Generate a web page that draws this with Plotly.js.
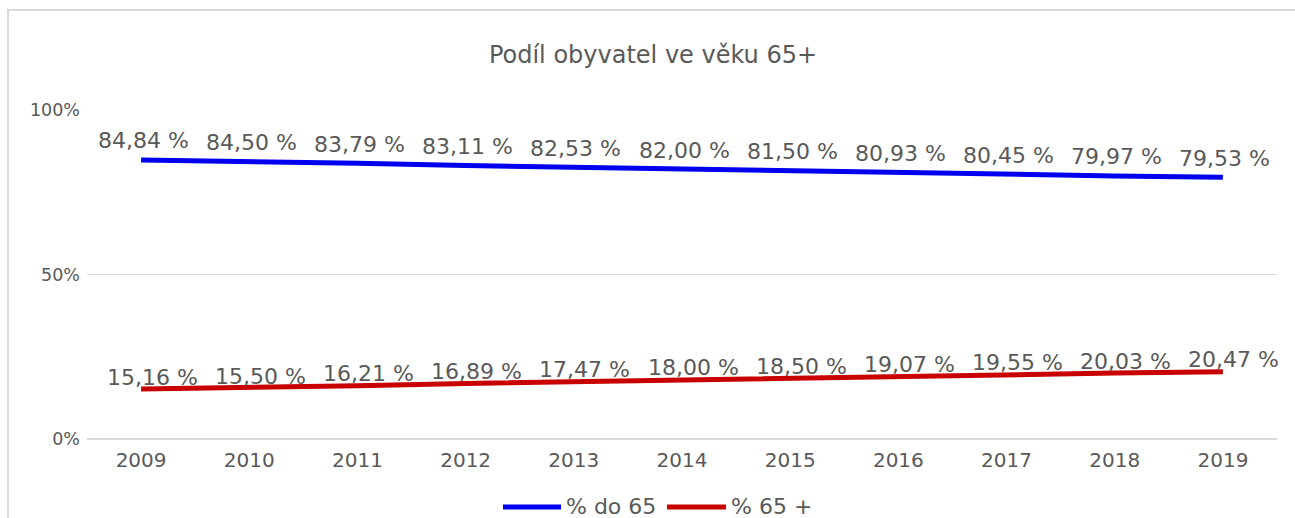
<!DOCTYPE html>
<html>
<head>
<meta charset="utf-8">
<script src="https://cdn.plot.ly/plotly-3.0.1.min.js"></script>
<style>
html,body{margin:0;padding:0;background:#fff;}
#wrap{position:relative;width:1295px;height:518px;overflow:hidden;}
#chart{position:absolute;left:0;top:0;width:1295px;height:518px;}
#frame{position:absolute;left:7px;top:9px;width:1300px;height:530px;border:2px solid #d9d9d9;box-sizing:border-box;pointer-events:none;}
</style>
</head>
<body>
<div id="wrap"><div id="chart"></div><div id="frame"></div></div>
<script>
const years = ['2009','2010','2011','2012','2013','2014','2015','2016','2017','2018','2019'];
const under65 = [0.8484,0.8450,0.8379,0.8311,0.8253,0.8200,0.8150,0.8093,0.8045,0.7997,0.7953];
const over65 = [0.1516,0.1550,0.1621,0.1689,0.1747,0.1800,0.1850,0.1907,0.1955,0.2003,0.2047];
const seriesNames = ['% do 65','% 65 +'];
const seriesColors = ['#0000f0','#c80000'];
const chartTitle = 'Podíl obyvatel ve věku 65+';

const FONT = 'DejaVu Sans, sans-serif';
const GREY = '#595959';
const fmt = v => (v*100).toFixed(2).replace('.', ',') + ' %';

const traces = [
  {x: years, y: under65, name: seriesNames[0], type: 'scatter', mode: 'lines',
   line: {color: seriesColors[0], width: 5}, showlegend: false},
  {x: years, y: over65, name: seriesNames[1], type: 'scatter', mode: 'lines',
   line: {color: seriesColors[1], width: 5}, showlegend: false}
];

// category axis: annotations are positioned by category index
const annotations = [];
years.forEach((yr, i) => {
  annotations.push({x: i, y: under65[i], text: fmt(under65[i]), showarrow: false,
    xref: 'x', yref: 'y', yshift: 19, xshift: 2, font: {family: FONT, size: 22, color: GREY}});
  annotations.push({x: i, y: over65[i], text: fmt(over65[i]), showarrow: false,
    xref: 'x', yref: 'y', yshift: 12, xshift: 11, font: {family: FONT, size: 22, color: GREY}});
});

// legend drawn with shapes + text (longer line keys like the original)
const px = v => (v - 87) / 1190;
const py = v => (439 - v) / 329;
const legendKeys = [[503, 561, 564], [667, 726, 729]];
const shapes = [];
legendKeys.forEach((k, i) => {
  shapes.push({type: 'line', xref: 'paper', yref: 'paper', x0: px(k[0]), x1: px(k[1]), y0: py(507), y1: py(507),
               line: {color: seriesColors[i], width: 5}});
  annotations.push({xref: 'paper', yref: 'paper', x: px(k[2]), y: py(506), xanchor: 'left', yanchor: 'middle',
               text: seriesNames[i], showarrow: false, font: {family: FONT, size: 22, color: GREY}});
});

const layout = {
  width: 1295, height: 518,
  margin: {l: 87, r: 18, t: 110, b: 79},
  paper_bgcolor: 'rgba(0,0,0,0)', plot_bgcolor: 'rgba(0,0,0,0)',
  font: {family: FONT, color: GREY},
  title: {text: chartTitle, font: {family: FONT, size: 24, color: GREY},
          x: 653/1295, xref: 'container', y: 1 - 55/518, yref: 'container', yanchor: 'middle', xanchor: 'center'},
  xaxis: {type: 'category', range: [-0.5, 10.5], showgrid: false, zeroline: false,
          showline: false, ticks: '', ticklabelstandoff: 7,
          tickfont: {family: FONT, size: 20, color: GREY}, fixedrange: true},
  yaxis: {range: [0, 1], tickvals: [0, 0.5, 1], ticktext: ['0%','50%','100%'],
          showgrid: true, gridcolor: '#d9d9d9', gridwidth: 1.5, zeroline: true, zerolinecolor: '#d9d9d9', zerolinewidth: 1.5,
          showline: false, ticks: '', ticklabelstandoff: 6,
          tickfont: {family: FONT, size: 17.5, color: GREY}, fixedrange: true},
  showlegend: false,
  shapes: shapes,
  annotations: annotations
};

Plotly.newPlot('chart', traces, layout, {displayModeBar: false, staticPlot: true});
</script>
</body>
</html>
